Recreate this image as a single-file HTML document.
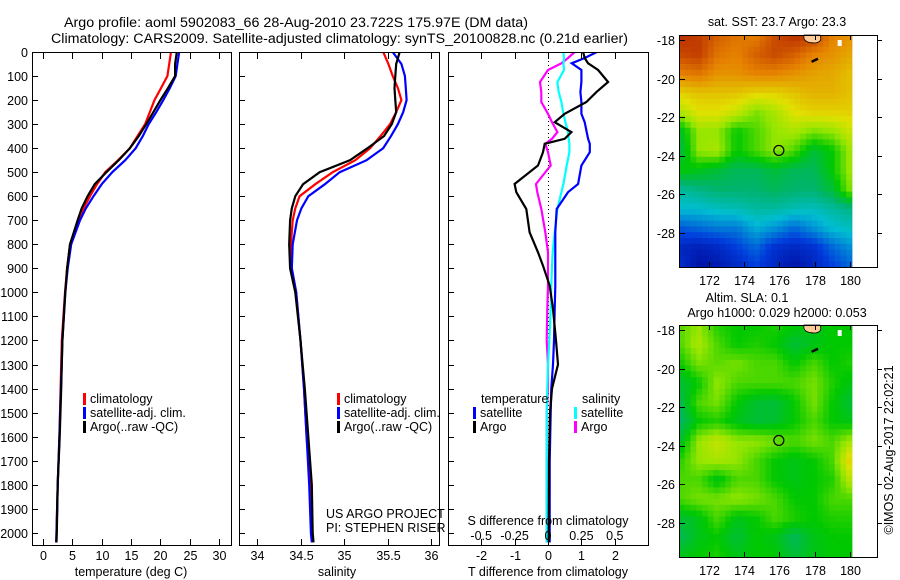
<!DOCTYPE html>
<html><head><meta charset="utf-8">
<style>
html,body{margin:0;padding:0;background:#fff;}
svg{display:block;font-family:"Liberation Sans",sans-serif;}
text{font-size:12.5px;fill:#000;}
</style></head>
<body>
<svg id="root" width="900" height="580" viewBox="0 0 900 580" xmlns="http://www.w3.org/2000/svg">
<text x="64" y="27" textLength="464" lengthAdjust="spacingAndGlyphs" style="font-size:13.5px">Argo profile: aoml 5902083_66 28-Aug-2010 23.722S 175.97E (DM data)</text>
<text x="51" y="43" textLength="577" lengthAdjust="spacingAndGlyphs" style="font-size:13.5px">Climatology: CARS2009. Satellite-adjusted climatology: synTS_20100828.nc (0.21d earlier)</text>
<g id="g"></g>
</svg>
<script>
// ---- data ----
const depths = [0,50,100,150,200,250,300,350,400,450,500,550,600,650,700,800,900,1000,1200,1400,1600,1800,2000,2040];
const tempClim = [21.8,21.5,21.2,20.1,19,18.2,17.4,16.1,14.8,12.8,10.6,9.2,8.0,6.9,6.0,4.6,4.1,3.75,3.2,3.0,2.8,2.5,2.3,2.25];
const tempSat = [23.2,22.9,22.6,21.6,20.5,19.3,18.0,17.0,15.8,14.0,11.8,10.0,8.6,7.3,6.3,4.8,4.2,3.8,3.3,3.05,2.8,2.5,2.3,2.25];
const tempArgo = [22.8,22.5,22.5,21.3,20.0,18.8,17.6,16.3,14.8,12.9,10.8,8.8,7.6,6.6,5.9,4.6,4.1,3.8,3.3,3.1,2.85,2.5,2.35,2.3];
const salClim = [35.45,35.51,35.56,35.62,35.66,35.6,35.53,35.42,35.3,35.13,34.87,34.67,34.49,34.44,34.41,34.39,34.4,34.45,34.5,34.54,34.57,34.61,34.63,34.64];
const salSat = [35.56,35.66,35.7,35.71,35.72,35.68,35.62,35.54,35.45,35.26,34.95,34.78,34.59,34.51,34.46,34.41,34.4,34.45,34.5,34.54,34.57,34.6,34.62,34.63];
const salArgo = [35.64,35.6,35.59,35.58,35.59,35.6,35.55,35.46,35.27,35.07,34.72,34.53,34.44,34.4,34.38,34.37,34.38,34.44,34.5,34.55,34.59,34.63,34.64,34.65];
const diffDepths = [0,25,47,75,125,167,208,257,292,333,361,382,417,472,549,583,653,750,833,889,972,1069,1200,1300,1400,1500,1700,2000,2040];
const dTempSat = [1.46,1.1,0.71,1.0,1.0,0.97,1.0,1.0,1.1,1.16,1.2,1.25,1.25,1.0,0.9,0.6,0.26,0.22,0.22,0.22,0.22,0.2,0.18,0.15,0.1,0.08,0.05,0.05,0.05];
const dTempArgo = [1.05,1.1,1.2,1.5,1.8,1.45,1.15,0.5,0.2,0.7,0.5,-0.1,-0.15,-0.3,-1.0,-0.95,-0.65,-0.55,-0.3,-0.15,0.05,0.15,0.24,0.3,0.12,0.06,0.03,0.02,0.02];
const dSalSat = [0.115,0.12,0.115,0.12,0.07,0.08,0.1,0.115,0.13,0.15,0.155,0.16,0.16,0.14,0.115,0.1,0.07,0.05,0.035,0.03,0.025,0.02,0.01,0.0,-0.005,-0.01,-0.01,-0.01,-0.01];
const dSalArgo = [0.2,0.15,0.1,0.0,-0.06,-0.05,-0.05,0.0,0.03,0.07,0.03,-0.02,0.0,0.02,-0.09,-0.08,-0.05,-0.02,0.0,0.0,0.0,-0.005,-0.01,0.0,0.0,-0.01,-0.01,-0.01,-0.01];
const depthTicks = [0,100,200,300,400,500,600,700,800,900,1000,1100,1200,1300,1400,1500,1600,1700,1800,1900,2000];
const tempTicks = [0,5,10,15,20,25,30];
const salTicks = [34,34.5,35,35.5,36];
const salTickLabels = ["34","34.5","35","35.5","36"];
const dTempTicks = [-2,-1,0,1,2];
const dSalTicks = [-0.5,-0.25,0,0.25,0.5];
const dSalTickLabels = ["-0.5","-0.25","0","0.25","0.5"];
const lonTicks = [172,174,176,178,180];
const latTicks = [-18,-20,-22,-24,-26,-28];
const argoLon = 175.97, argoLat = -23.722;
const sstGrid = [
[0.92,0.9,0.85,0.82,0.8,0.88,0.92,0.9,0.8,0.78],
[0.88,0.9,0.82,0.8,0.85,0.88,0.85,0.8,0.78,0.75],
[0.8,0.82,0.78,0.78,0.8,0.8,0.78,0.76,0.75,0.72],
[0.7,0.72,0.72,0.72,0.7,0.7,0.72,0.74,0.74,0.72],
[0.62,0.68,0.68,0.65,0.58,0.62,0.68,0.7,0.7,0.7],
[0.45,0.6,0.6,0.5,0.55,0.6,0.62,0.58,0.6,0.66],
[0.42,0.6,0.62,0.5,0.55,0.6,0.55,0.45,0.5,0.62],
[0.5,0.48,0.45,0.42,0.42,0.45,0.42,0.42,0.5,0.62],
[0.35,0.38,0.4,0.4,0.4,0.42,0.4,0.4,0.45,0.6],
[0.3,0.3,0.32,0.33,0.35,0.35,0.33,0.32,0.35,0.38],
[0.18,0.2,0.22,0.22,0.28,0.25,0.2,0.25,0.3,0.32],
[0.1,0.08,0.1,0.15,0.2,0.12,0.1,0.12,0.2,0.25],
[0.12,0.05,0.06,0.1,0.15,0.1,0.05,0.1,0.15,0.2]];
const slaGrid = [
[0.55,0.6,0.52,0.5,0.5,0.52,0.5,0.48,0.5,0.5],
[0.55,0.62,0.55,0.5,0.52,0.5,0.45,0.48,0.5,0.5],
[0.5,0.58,0.56,0.58,0.55,0.55,0.5,0.55,0.5,0.52],
[0.45,0.5,0.6,0.55,0.55,0.55,0.55,0.58,0.52,0.48],
[0.42,0.55,0.58,0.5,0.46,0.45,0.5,0.58,0.5,0.45],
[0.4,0.5,0.52,0.48,0.45,0.46,0.5,0.55,0.5,0.48],
[0.45,0.6,0.65,0.6,0.6,0.58,0.55,0.58,0.55,0.62],
[0.52,0.6,0.62,0.6,0.55,0.5,0.48,0.5,0.55,0.72],
[0.55,0.55,0.48,0.55,0.55,0.5,0.48,0.5,0.52,0.65],
[0.55,0.58,0.58,0.6,0.58,0.55,0.5,0.5,0.55,0.55],
[0.45,0.48,0.55,0.48,0.5,0.55,0.52,0.5,0.52,0.52],
[0.42,0.48,0.5,0.45,0.5,0.48,0.42,0.48,0.5,0.5],
[0.48,0.5,0.52,0.48,0.5,0.5,0.45,0.48,0.5,0.5]];

// ---- helpers ----
const NS="http://www.w3.org/2000/svg";
const G=document.getElementById('g');
function mk(tag,attrs,parent){const e=document.createElementNS(NS,tag);for(const k in attrs)e.setAttribute(k,attrs[k]);(parent||G).appendChild(e);return e;}
function txt(x,y,s,anchor,size){const t=mk('text',{x:x,y:y,'text-anchor':anchor||'start'});if(size)t.style.fontSize=size+'px';t.textContent=s;return t;}
const yD=d=>52+d*0.2404;
const xT=v=>43+v*5.87;
const xS=v=>257+(v-34)*87;
const xdT=v=>548+v*33.4;
const xdS=v=>548+v*133.6;

function frame(x0,x1,name){
  const r=mk('rect',{x:x0+0.5,y:52.5,width:x1-x0,height:493,fill:'none',stroke:'#000','stroke-width':1});
  
  
}
function depthAxis(x0,x1,labels){
  depthTicks.forEach(d=>{
    const y=Math.round(yD(d))+0.5;
    const t=mk('line',{x1:x0,x2:x0+6,y1:y,y2:y,stroke:'#000'});
    
    
    if(labels){const l=txt(x0-4,y+4.5,String(d),'end');
      
      }
  });
}
function xTicks(vals,labs,fx,top,bottom,ly){
  vals.forEach((v,i)=>{
    const x=Math.round(fx(v))+0.5;
    if(top){const t=mk('line',{x1:x,x2:x,y1:53,y2:59,stroke:'#000'});
      
      }
    if(bottom){const t=mk('line',{x1:x,x2:x,y1:539,y2:545,stroke:'#000'});
      
      }
    if(ly){const l=txt(x,ly,labs[i],'middle');
      
      }
  });
}
function legendEntry(xb,y,color,label,name){
  const r=mk('rect',{x:xb,y:y-10,width:3,height:12,fill:color});
  
  
  const t=txt(xb+7,y,label);
  
  
}

// ---- clip paths ----
const defs=mk('defs',{});
[['c1',32,231],['c2',239,439],['c3',448,648]].forEach(c=>{const cp=mk('clipPath',{id:c[0]},defs);mk('rect',{x:c[1],y:52,width:c[2]-c[1],height:493},cp);});

// ---- panel 1 temperature ----
const g1=mk('g',{'clip-path':'url(#c1)'});


frame(32,231,'temperature-panel');
depthAxis(32,231,true);
xTicks(tempTicks,tempTicks.map(String),xT,true,true,560);
[[tempClim,'#ff0000','temp-climatology-line'],[tempSat,'#0000ff','temp-satellite-line'],[tempArgo,'#000000','temp-argo-line']].forEach(s=>{
  const pts=s[0].map((v,i)=>xT(v).toFixed(1)+','+yD(depths[i]).toFixed(1)).join(' ');
  const p=mk('polyline',{points:pts,fill:'none',stroke:s[1],'stroke-width':2.2},g1);
  
  
});
legendEntry(83,403,'#ff0000','climatology','temp-legend-climatology');
legendEntry(83,417,'#0000ff','satellite-adj. clim.','temp-legend-satellite');
legendEntry(83,431,'#000000','Argo(..raw -QC)','temp-legend-argo');
{const t=txt(131,576,'temperature (deg C)','middle');}

// ---- panel 2 salinity ----
const g2=mk('g',{'clip-path':'url(#c2)'});


frame(239,439,'salinity-panel');
depthAxis(239,439,false);
xTicks(salTicks,salTickLabels,xS,true,true,560);
[[salClim,'#ff0000','sal-climatology-line'],[salSat,'#0000ff','sal-satellite-line'],[salArgo,'#000000','sal-argo-line']].forEach(s=>{
  const pts=s[0].map((v,i)=>xS(v).toFixed(1)+','+yD(depths[i]).toFixed(1)).join(' ');
  const p=mk('polyline',{points:pts,fill:'none',stroke:s[1],'stroke-width':2.2},g2);
  
  
});
legendEntry(337,403,'#ff0000','climatology','sal-legend-climatology');
legendEntry(337,417,'#0000ff','satellite-adj. clim.','sal-legend-satellite');
legendEntry(337,431,'#000000','Argo(..raw -QC)','sal-legend-argo');
{const t=txt(326,518,'US ARGO PROJECT');}
{const t=txt(326,532,'PI: STEPHEN RISER');}
{const t=txt(337,576,'salinity','middle');}

// ---- panel 3 differences ----
const g3=mk('g',{'clip-path':'url(#c3)'});


frame(448,648,'difference-panel');
depthAxis(448,648,false);
xTicks(dTempTicks,dTempTicks.map(String),xdT,true,true,560);
{const z=mk('line',{x1:548.5,x2:548.5,y1:53,y2:545,stroke:'#000','stroke-dasharray':'1,3'},g3);}
[[dSalArgo,xdS,'#ff00ff','dsal-argo-line'],[dSalSat,xdS,'#00ffff','dsal-satellite-line'],[dTempSat,xdT,'#0000ff','dtemp-satellite-line'],[dTempArgo,xdT,'#000000','dtemp-argo-line']].forEach(s=>{
  const pts=s[0].map((v,i)=>s[1](v).toFixed(1)+','+yD(diffDepths[i]).toFixed(1)).join(' ');
  const p=mk('polyline',{points:pts,fill:'none',stroke:s[2],'stroke-width':2.2},g3);
  
  
});
{const t=txt(481,403,'temperature');}
{const t=txt(582,403,'salinity');}
legendEntry(473,417,'#0000ff','satellite','dtemp-legend-satellite');
legendEntry(473,431,'#000000','Argo','dtemp-legend-argo');
legendEntry(574,417,'#00ffff','satellite','dsal-legend-satellite');
legendEntry(574,431,'#ff00ff','Argo','dsal-legend-argo');
{const t=txt(548,525,'S difference from climatology','middle');}
dSalTicks.forEach((v,i)=>{const t=txt(xdS(v),540,dSalTickLabels[i],'middle');
  
  });
{const t=txt(548,576,'T difference from climatology','middle');}

// ---- maps ----
const cmapStops=[[0,0,0,140],[0.15,0,60,220],[0.3,0,190,210],[0.4,0,180,110],[0.5,0,200,0],[0.6,150,230,0],[0.68,225,225,0],[0.8,230,130,0],[0.95,175,25,0],[1,160,10,0]];
function cmap(v){
  v=Math.max(0,Math.min(1,v));
  for(let k=1;k<cmapStops.length;k++){
    const a=cmapStops[k-1],b=cmapStops[k];
    if(v<=b[0]){const f=(v-a[0])/(b[0]-a[0]);
      return 'rgb('+Math.round(a[1]+f*(b[1]-a[1]))+','+Math.round(a[2]+f*(b[2]-a[2]))+','+Math.round(a[3]+f*(b[3]-a[3]))+')';}
  }
  return 'rgb(160,10,0)';
}
function drawMap(top,grid,name){
  const lonX=l=>679+(l-170.32)*17.67;
  const latY=la=>top+5+(-18-la)*19.3;
  const gm=mk('g',{});
  
  
  const x0=679,x1=852,y0=top,y1=top+232;
  const nc=30,nr=40,cw=(x1-x0)/nc,ch=(y1-y0)/nr;
  const R=grid.length-1,C=grid[0].length-1;
  for(let r=0;r<nr;r++)for(let c=0;c<nc;c++){
    const u=(c+0.5)/nc*C,v=(r+0.5)/nr*R;
    const i=Math.min(R-1,Math.floor(v)),j=Math.min(C-1,Math.floor(u));
    const fv=v-i,fu=u-j;
    const val=grid[i][j]*(1-fu)*(1-fv)+grid[i][j+1]*fu*(1-fv)+grid[i+1][j]*(1-fu)*fv+grid[i+1][j+1]*fu*fv;
    mk('rect',{x:(x0+c*cw).toFixed(2),y:(y0+r*ch).toFixed(2),width:(cw+0.4).toFixed(2),height:(ch+0.4).toFixed(2),fill:cmap(val)},gm);
  }
  const lx0=lonX(177.4),lx1=lonX(178.3);
  const land=mk('path',{d:'M'+lx0+','+top+' L'+lx1+','+top+' Q'+(lx1+3)+','+(top+7)+' '+(lx1-5)+','+(top+8)+' Q'+(lx0-2)+','+(top+8)+' '+lx0+','+top+'Z',fill:'#ffcc99',stroke:'#000','stroke-width':0.8});
  
  
  mk('rect',{x:lonX(177.8),y:top+24,width:7,height:2.5,fill:'#000',transform:'rotate(-25 '+lonX(178)+' '+(top+25)+')'});
  mk('rect',{x:lonX(179.3),y:top+5,width:4,height:6,fill:'#fff'});
  const fr=mk('rect',{x:679.5,y:top+0.5,width:198,height:232,fill:'none',stroke:'#000'});
  
  
  lonTicks.forEach(l=>{const x=Math.round(lonX(l))+0.5;
    mk('line',{x1:x,x2:x,y1:top,y2:top+5,stroke:'#000'});
    mk('line',{x1:x,x2:x,y1:top+232,y2:top+227,stroke:'#000'});
    const t=txt(x,top+250,String(l),'middle');
    
    });
  latTicks.forEach(la=>{const y=Math.round(latY(la))+0.5;
    mk('line',{x1:680,x2:685,y1:y,y2:y,stroke:'#000'});
    mk('line',{x1:877,x2:882,y1:y,y2:y,stroke:'#000'});
    const t=txt(675,y+4.5,String(la),'end');
    
    });
  const c=mk('circle',{cx:lonX(argoLon),cy:latY(argoLat),r:5,fill:'none',stroke:'#000','stroke-width':1.2});
  
  
}
drawMap(35,sstGrid,'sst-map');
drawMap(325,slaGrid,'sla-map');
{const t=txt(777,26,'sat. SST: 23.7 Argo: 23.3','middle');}
{const t=txt(747,302,'Altim. SLA: 0.1','middle');}
{const t=txt(777,317,'Argo h1000: 0.029 h2000: 0.053','middle');}
{const t=txt(0,0,'©IMOS 02-Aug-2017 22:02:21','middle');t.setAttribute('transform','translate(893,450) rotate(-90)');}
</script>
</body></html>
